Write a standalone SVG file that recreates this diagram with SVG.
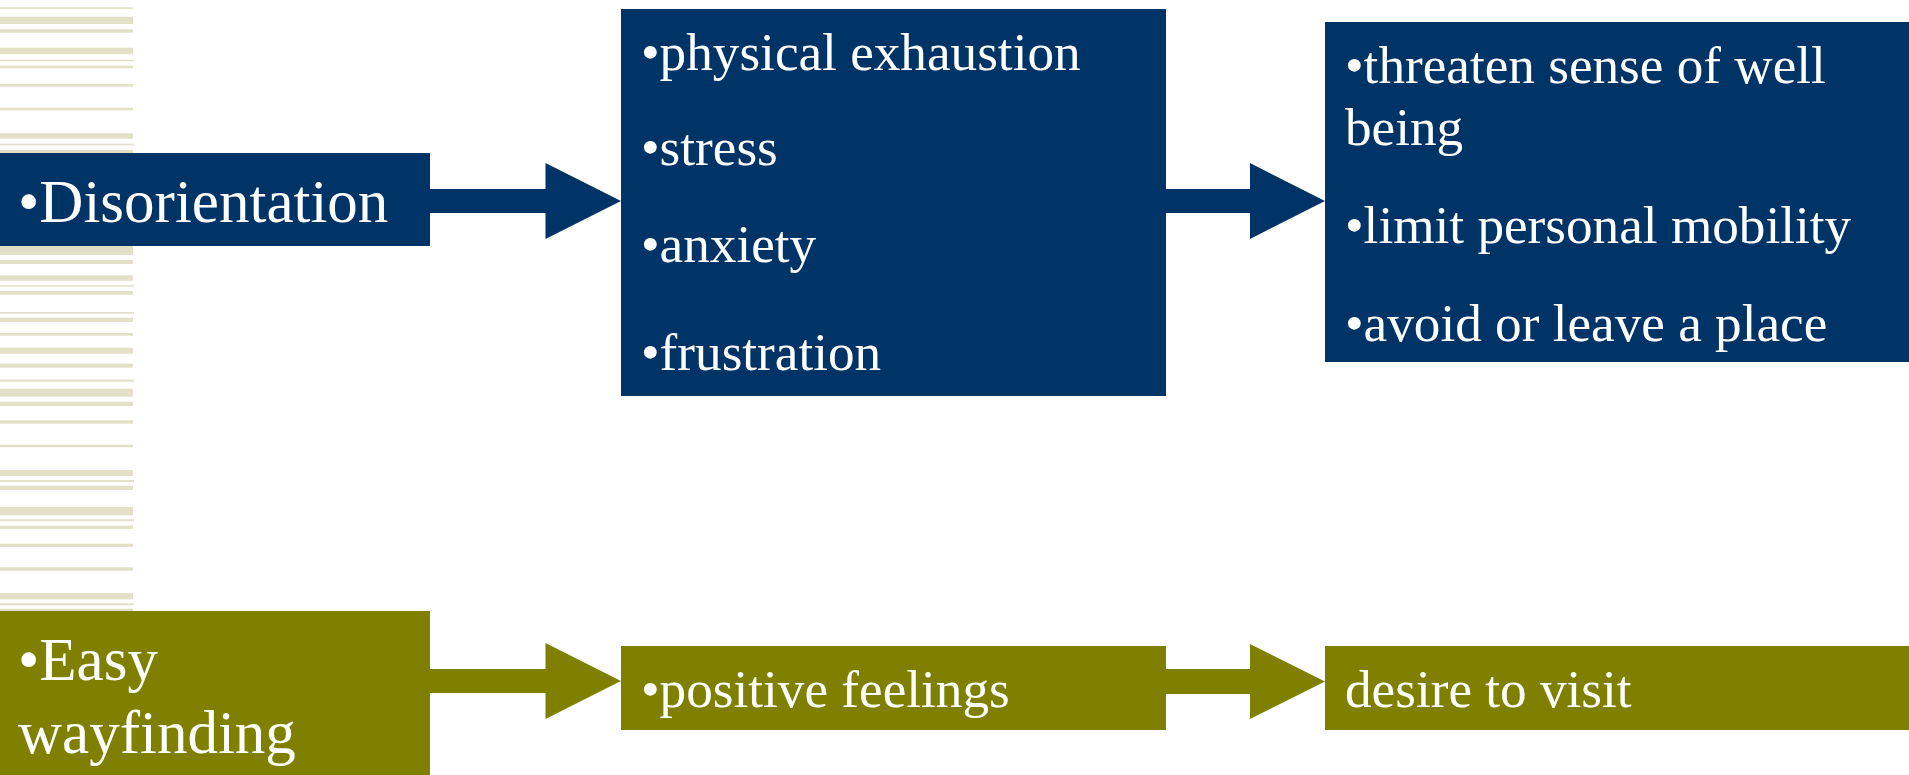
<svg xmlns="http://www.w3.org/2000/svg" width="1909" height="775" viewBox="0 0 1909 775">
<style>
.st{fill:#E2E0C7}
.navy{fill:#003366}
.olive{fill:#808000}
.t{font-family:"Liberation Serif","Times New Roman",serif;fill:#FFFFFF}
.big{font-size:61px}
.med{font-size:53.2px}
</style>
<g id="stripes">
<rect class="st" x="0" y="7.3" width="133" height="1.8"/>
<rect class="st" x="0" y="16.7" width="133" height="7.3"/>
<rect class="st" x="0" y="29.3" width="133" height="3.4"/>
<rect class="st" x="0" y="47.7" width="133" height="6.6"/>
<rect class="st" x="0" y="59.7" width="134" height="1.6"/>
<rect class="st" x="0" y="65.7" width="133" height="2.6"/>
<rect class="st" x="0" y="84" width="133" height="2.7"/>
<rect class="st" x="0" y="107.7" width="133" height="2.6"/>
<rect class="st" x="0" y="133.3" width="133" height="5.4"/>
<rect class="st" x="0" y="143.7" width="134" height="1.6"/>
<rect class="st" x="0" y="150" width="133" height="3"/>
<rect class="st" x="0" y="246" width="133" height="9"/>
<rect class="st" x="0" y="260" width="133" height="4"/>
<rect class="st" x="0" y="275.3" width="133" height="5.4"/>
<rect class="st" x="0" y="285.3" width="134" height="1.4"/>
<rect class="st" x="0" y="291" width="133" height="3.7"/>
<rect class="st" x="0" y="312" width="134" height="1.7"/>
<rect class="st" x="0" y="317.7" width="133" height="4.3"/>
<rect class="st" x="0" y="333" width="133" height="2.7"/>
<rect class="st" x="0" y="347.7" width="133" height="6"/>
<rect class="st" x="0" y="363.7" width="133" height="4"/>
<rect class="st" x="0" y="379.7" width="134" height="2"/>
<rect class="st" x="0" y="388.7" width="133" height="8"/>
<rect class="st" x="0" y="401.7" width="133" height="4.3"/>
<rect class="st" x="0" y="420.3" width="133" height="3.4"/>
<rect class="st" x="0" y="444.7" width="133" height="2.6"/>
<rect class="st" x="0" y="470" width="133" height="6"/>
<rect class="st" x="0" y="480" width="134" height="2"/>
<rect class="st" x="0" y="485.7" width="133" height="4.3"/>
<rect class="st" x="0" y="507" width="133" height="8.3"/>
<rect class="st" x="0" y="519.3" width="134" height="2"/>
<rect class="st" x="0" y="525.7" width="133" height="3.3"/>
<rect class="st" x="0" y="543.7" width="133" height="3.3"/>
<rect class="st" x="0" y="567.3" width="133" height="3.4"/>
<rect class="st" x="0" y="593" width="133" height="6.3"/>
<rect class="st" x="0" y="603.3" width="134" height="2"/>
<rect class="st" x="0" y="608.7" width="133" height="3"/>
</g>
<g id="connectors">
<polygon class="navy" points="430,189 545.5,189 545.5,163 621,201 545.5,239 545.5,213 430,213"/>
<polygon class="navy" points="1166,189 1250,189 1250,163 1325,201 1250,239 1250,213 1166,213"/>
<polygon class="olive" points="430,669 545.5,669 545.5,643 621,681 545.5,719 545.5,693 430,693"/>
<polygon class="olive" points="1166,669 1250,669 1250,644 1325,681.5 1250,719 1250,694 1166,694"/>
</g>
<g id="disorientation">
<rect class="navy" x="0" y="153" width="430" height="93"/>
<text class="t big" x="18" y="222">•Disorientation</text>
</g>
<g id="effects">
<rect class="navy" x="621" y="9" width="545" height="387"/>
<text class="t med" x="641" y="70">•physical exhaustion</text>
<text class="t med" x="641" y="165">•stress</text>
<text class="t med" x="641" y="262">•anxiety</text>
<text class="t med" x="641" y="370">•frustration</text>
</g>
<g id="consequences">
<rect class="navy" x="1325" y="22" width="584" height="340"/>
<text class="t med" x="1345" y="83">•threaten sense of well</text>
<text class="t med" x="1345" y="145">being</text>
<text class="t med" x="1345" y="243">•limit personal mobility</text>
<text class="t med" x="1345" y="341">•avoid or leave a place</text>
</g>
<g id="easy-wayfinding">
<rect class="olive" x="0" y="611" width="430" height="164"/>
<text class="t big" x="18" y="680">•Easy</text>
<text class="t big" x="18" y="753">wayfinding</text>
</g>
<g id="positive-feelings">
<rect class="olive" x="621" y="646" width="545" height="84"/>
<text class="t med" x="641" y="707">•positive feelings</text>
</g>
<g id="desire-to-visit">
<rect class="olive" x="1325" y="646" width="584" height="84"/>
<text class="t med" x="1345" y="707">desire to visit</text>
</g>
</svg>
